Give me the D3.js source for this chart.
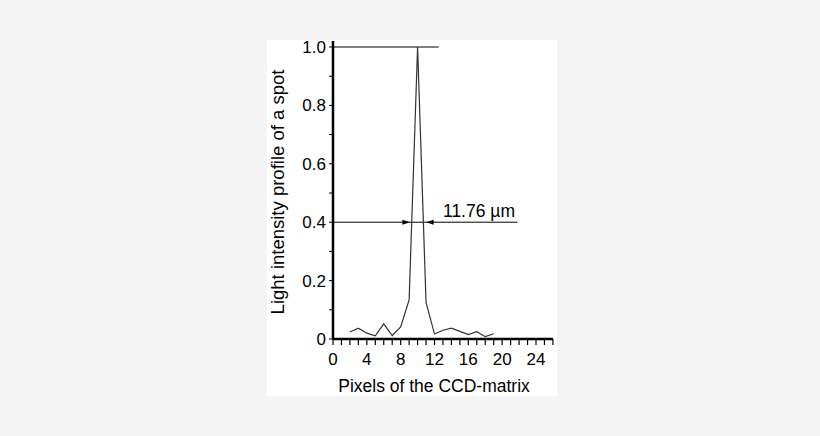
<!DOCTYPE html>
<html><head><meta charset="utf-8">
<script src="https://cdn.jsdelivr.net/npm/d3@7"></script>
<style>body{margin:0;background:#f4f4f4;} text{font-family:Arial,"Liberation Sans",sans-serif;}</style>
</head><body>
<div id="chart"></div>
<script>
var pixels = [2,3,4,5,6,7,8,9,10,11,12,13,14,15,16,17,18,19];
var intensity = [0.024,0.037,0.02,0.011,0.052,0.012,0.041,0.134,1.0,0.125,0.017,0.03,0.037,0.026,0.015,0.025,0.008,0.018];
var xTicks = [0,4,8,12,16,20,24];
var yTicks = [0,0.2,0.4,0.6,0.8,1.0];
var fwhmLevel = 0.4;
var fwhmLabel = "11.76 µm";

var svg = d3.select("#chart").append("svg")
			.attr("width", 820)
			.attr("height", 436);

svg.append("rect")
	.attr("x", 267).attr("y", 40)
	.attr("width", 290).attr("height", 356)
	.attr("fill", "#ffffff");

var x = d3.scaleLinear().domain([0, 24]).range([333, 536]);
var y = d3.scaleLinear().domain([0, 1]).range([339, 47]);

// minor ticks
var g = svg.append("g");
g.selectAll(".xm").data(d3.range(0, 27)).enter().append("line")
	.attr("x1", d => x(d)).attr("x2", d => x(d))
	.attr("y1", y(0)).attr("y2", y(0) + 6)
	.attr("stroke", "#000").attr("stroke-width", 1.2);
g.selectAll(".ym").data(d3.range(0, 11).map(d => d / 10)).enter().append("line")
	.attr("x1", x(0) - 4).attr("x2", x(0))
	.attr("y1", d => y(d)).attr("y2", d => y(d))
	.attr("stroke", "#000").attr("stroke-width", 1);

// axes lines
svg.append("line").attr("x1", x(0)).attr("x2", x(26)).attr("y1", y(0)).attr("y2", y(0))
	.attr("stroke", "#000").attr("stroke-width", 2.5);
svg.append("line").attr("x1", x(0)).attr("x2", x(0)).attr("y1", y(0)).attr("y2", y(1) - 6)
	.attr("stroke", "#000").attr("stroke-width", 2.5);

// tick labels
svg.selectAll(".xl").data(xTicks).enter().append("text")
	.attr("x", d => x(d)).attr("y", y(0) + 26)
	.attr("text-anchor", "middle").attr("font-size", 17)
	.text(d => d);
svg.selectAll(".yl").data(yTicks).enter().append("text")
	.attr("x", x(0) - 7).attr("y", d => y(d) + 6)
	.attr("text-anchor", "end").attr("font-size", 17)
	.text(d => d === 0 ? "0" : d.toFixed(1));

// axis titles
svg.append("text").attr("x", 434).attr("y", 392)
	.attr("text-anchor", "middle").attr("font-size", 17.5)
	.text("Pixels of the CCD-matrix");
svg.append("text").attr("transform", "translate(284,192) rotate(-90)")
	.attr("text-anchor", "middle").attr("font-size", 18.5)
	.text("Light intensity profile of a spot");

// reference lines
svg.append("line").attr("x1", x(0)).attr("x2", x(12.5)).attr("y1", y(1)).attr("y2", y(1))
	.attr("stroke", "#000").attr("stroke-width", 1);
svg.append("line").attr("x1", x(0)).attr("x2", x(21.8)).attr("y1", y(fwhmLevel)).attr("y2", y(fwhmLevel))
	.attr("stroke", "#000").attr("stroke-width", 1);

// arrows
var ay = y(fwhmLevel);
svg.append("polygon")
	.attr("points", [[x(8.2), ay - 2.5], [x(9.1), ay], [x(8.2), ay + 2.5]].join(" "))
	.attr("fill", "#000");
svg.append("polygon")
	.attr("points", [[x(11.9), ay - 2.5], [x(11.0), ay], [x(11.9), ay + 2.5]].join(" "))
	.attr("fill", "#000");

svg.append("text").attr("x", x(13)).attr("y", ay - 5)
	.attr("font-size", 17.5).text(fwhmLabel);

// profile
var line = d3.line().x((d, i) => x(pixels[i])).y(d => y(d));
svg.append("path").datum(intensity)
	.attr("d", line)
	.attr("fill", "none")
	.attr("stroke", "#333")
	.attr("stroke-width", 1.2);
</script>
</body></html>
